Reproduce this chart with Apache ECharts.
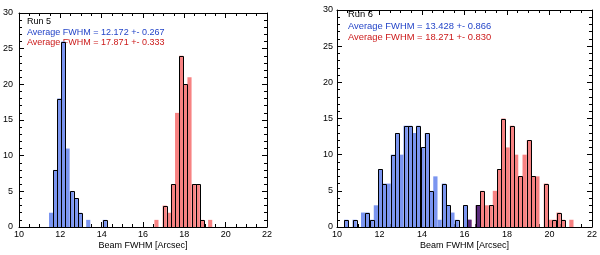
<!DOCTYPE html>
<html><head><meta charset="utf-8">
<script src="https://cdn.jsdelivr.net/npm/echarts@6/dist/echarts.min.js"></script>
<style>html,body{margin:0;padding:0;background:#fff}#c{width:600px;height:255px}</style>
</head><body><div id="c"></div>
<script>
// ---- data ----
const BIN_W = 0.2;
const X_TICKS = [10, 12, 14, 16, 18, 20, 22];
const Y_TICKS = [0, 5, 10, 15, 20, 25, 30];
const X_TITLE = 'Beam FWHM [Arcsec]';

const L_LABELS = ['Run 5', 'Average FWHM = 12.172 +- 0.267', 'Average FWHM = 17.871 +- 0.333'];
const R_LABELS = ['Run 6', 'Average FWHM = 13.428 +- 0.866', 'Average FWHM = 18.271 +- 0.830'];

const L_BLUE_START = 11.45;
const L_BLUE     = [2, 8, 18, 26, 11, 5, 4, 2, 0, 1, 0, 0, 0, 1];
const L_BLUE_OUT = [0, 8, 18, 26, 0, 5, 4, 2, 0, 0, 0, 0, 0, 1];
const L_RED_START = 16.55;
const L_RED     = [1, 0, 3, 2, 6, 16, 24, 20, 21, 6, 6, 1, 0, 1];
const L_RED_OUT = [0, 0, 3, 0, 6, 0, 24, 20, 0, 6, 6, 1, 0, 0];

const R_BLUE_START = 10.33;
const R_BLUE     = [1, 0, 1, 0, 2, 2, 1, 3, 8, 6, 6, 10, 13, 10, 14, 14, 13, 14, 11, 13, 5, 7, 1, 6, 3, 2, 1, 0, 3, 1, 0, 3];
const R_BLUE_OUT = [1, 0, 1, 0, 0, 2, 1, 0, 8, 6, 0, 10, 13, 0, 14, 14, 0, 14, 11, 13, 5, 0, 0, 6, 3, 0, 1, 0, 3, 0, 0, 3];
const R_RED_START = 16.13;
const R_RED     = [1, 0, 3, 5, 3, 3, 5, 8, 15, 11, 14, 10, 7, 10, 12, 7, 7, 0, 6, 1, 1, 2, 1, 0, 1];
const R_RED_OUT = [0, 0, 3, 5, 0, 3, 0, 8, 15, 0, 14, 0, 7, 0, 12, 7, 0, 0, 6, 0, 1, 2, 1, 0, 0];
const R_OVER_START = 16.13;
const R_OVER = [1, 0, 3];

// ---- helpers ----
function bins(start, arr) {
  const out = [];
  arr.forEach((v, i) => { if (v > 0) out.push([start + i * BIN_W, v]); });
  return out;
}
function rectRender(fill, stroke) {
  return function (params, api) {
    const x0 = api.value(0), h = api.value(1);
    const p0 = api.coord([x0, 0]);
    const p1 = api.coord([x0 + BIN_W, h]);
    let x = p0[0], y = p1[1], w = p1[0] - p0[0], hh = p0[1] - p1[1];
    if (stroke) { x = Math.round(x) + 0.5; y = Math.round(y) + 0.5; w = Math.round(w); hh = Math.round(hh); }
    return {
      type: 'rect',
      shape: { x: x, y: y, width: w, height: hh },
      style: stroke ? { fill: 'none', stroke: stroke, lineWidth: 1 } : { fill: fill }
    };
  };
}
function histSeries(grid, data, fill, stroke) {
  return {
    type: 'custom', xAxisIndex: grid * 2, yAxisIndex: grid * 2,
    renderItem: rectRender(fill, stroke), data: data, clip: true,
    encode: { x: 0, y: 1 }, silent: true
  };
}
const FONT = 'Liberation Sans, Arial, sans-serif';
function xAx(grid, pos, labels) {
  return {
    type: 'value', gridIndex: grid, position: pos,
    min: X_TICKS[0], max: X_TICKS[X_TICKS.length - 1], interval: X_TICKS[1] - X_TICKS[0],
    axisLine: { show: true, onZero: false, lineStyle: { color: '#000', width: 1 } },
    axisTick: { show: true, inside: true, length: 5, lineStyle: { color: '#000' } },
    minorTick: { show: true, splitNumber: 4, length: 3, lineStyle: { color: '#000' } },
    splitLine: { show: false }, minorSplitLine: { show: false },
    axisLabel: { show: labels, color: '#000', fontSize: 9, fontFamily: FONT, margin: 3 },
    name: labels ? X_TITLE : '', nameLocation: 'middle', nameGap: 14, nameMoveOverlap: false,
    nameTextStyle: { color: '#000', fontSize: 9, fontFamily: FONT }
  };
}
function yAx(grid, pos, labels, margin) {
  return {
    type: 'value', gridIndex: grid, position: pos,
    min: Y_TICKS[0], max: Y_TICKS[Y_TICKS.length - 1], interval: Y_TICKS[1] - Y_TICKS[0],
    axisLine: { show: true, onZero: false, lineStyle: { color: '#000', width: 1 } },
    axisTick: { show: true, inside: true, length: 5, lineStyle: { color: '#000' } },
    minorTick: { show: true, splitNumber: 5, length: 3, lineStyle: { color: '#000' } },
    splitLine: { show: false }, minorSplitLine: { show: false },
    axisLabel: { show: labels, color: '#000', fontSize: 9, fontFamily: FONT, margin: margin }
  };
}
function labelTexts(x, ys, texts, size) {
  const colors = ['#000000', '#2445c8', '#cc1a1a'];
  return texts.map((t, i) => ({
    type: 'text', left: x, top: ys[i],
    style: { text: t, fill: colors[i], fontSize: size, fontFamily: FONT }
  }));
}

const BLUE = '#7b95f0', RED = '#f78282', PURPLE = '#5b2a7c', BLACK = '#000';

const option = {
  animation: false,
  grid: [
    { left: 16, top: 13, width: 251, height: 220 },
    { left: 337, top: 10, width: 257, height: 223 }
  ],
  xAxis: [xAx(0, 'bottom', true), xAx(0, 'top', false), xAx(1, 'bottom', true), xAx(1, 'top', false)],
  yAxis: [yAx(0, 'left', true, 6), yAx(0, 'right', false, 0), yAx(1, 'left', true, 4), yAx(1, 'right', false, 0)],
  series: [
    histSeries(0, bins(L_BLUE_START, L_BLUE), BLUE, null),
    histSeries(0, bins(L_RED_START, L_RED), RED, null),
    histSeries(0, bins(L_BLUE_START, L_BLUE_OUT), null, BLACK),
    histSeries(0, bins(L_RED_START, L_RED_OUT), null, BLACK),
    histSeries(1, bins(R_BLUE_START, R_BLUE), BLUE, null),
    histSeries(1, bins(R_RED_START, R_RED), RED, null),
    histSeries(1, bins(R_OVER_START, R_OVER), PURPLE, null),
    histSeries(1, bins(R_BLUE_START, R_BLUE_OUT), null, BLACK),
    histSeries(1, bins(R_RED_START, R_RED_OUT), null, BLACK)
  ],
  graphic: [].concat(
    labelTexts(27, [17, 28, 38], L_LABELS, 9),
    labelTexts(348, [10, 22, 33], R_LABELS, 9.4)
  )
};
const chart = echarts.init(document.getElementById('c'), null, { renderer: 'canvas' });
chart.setOption(option);
</script>
</body></html>
